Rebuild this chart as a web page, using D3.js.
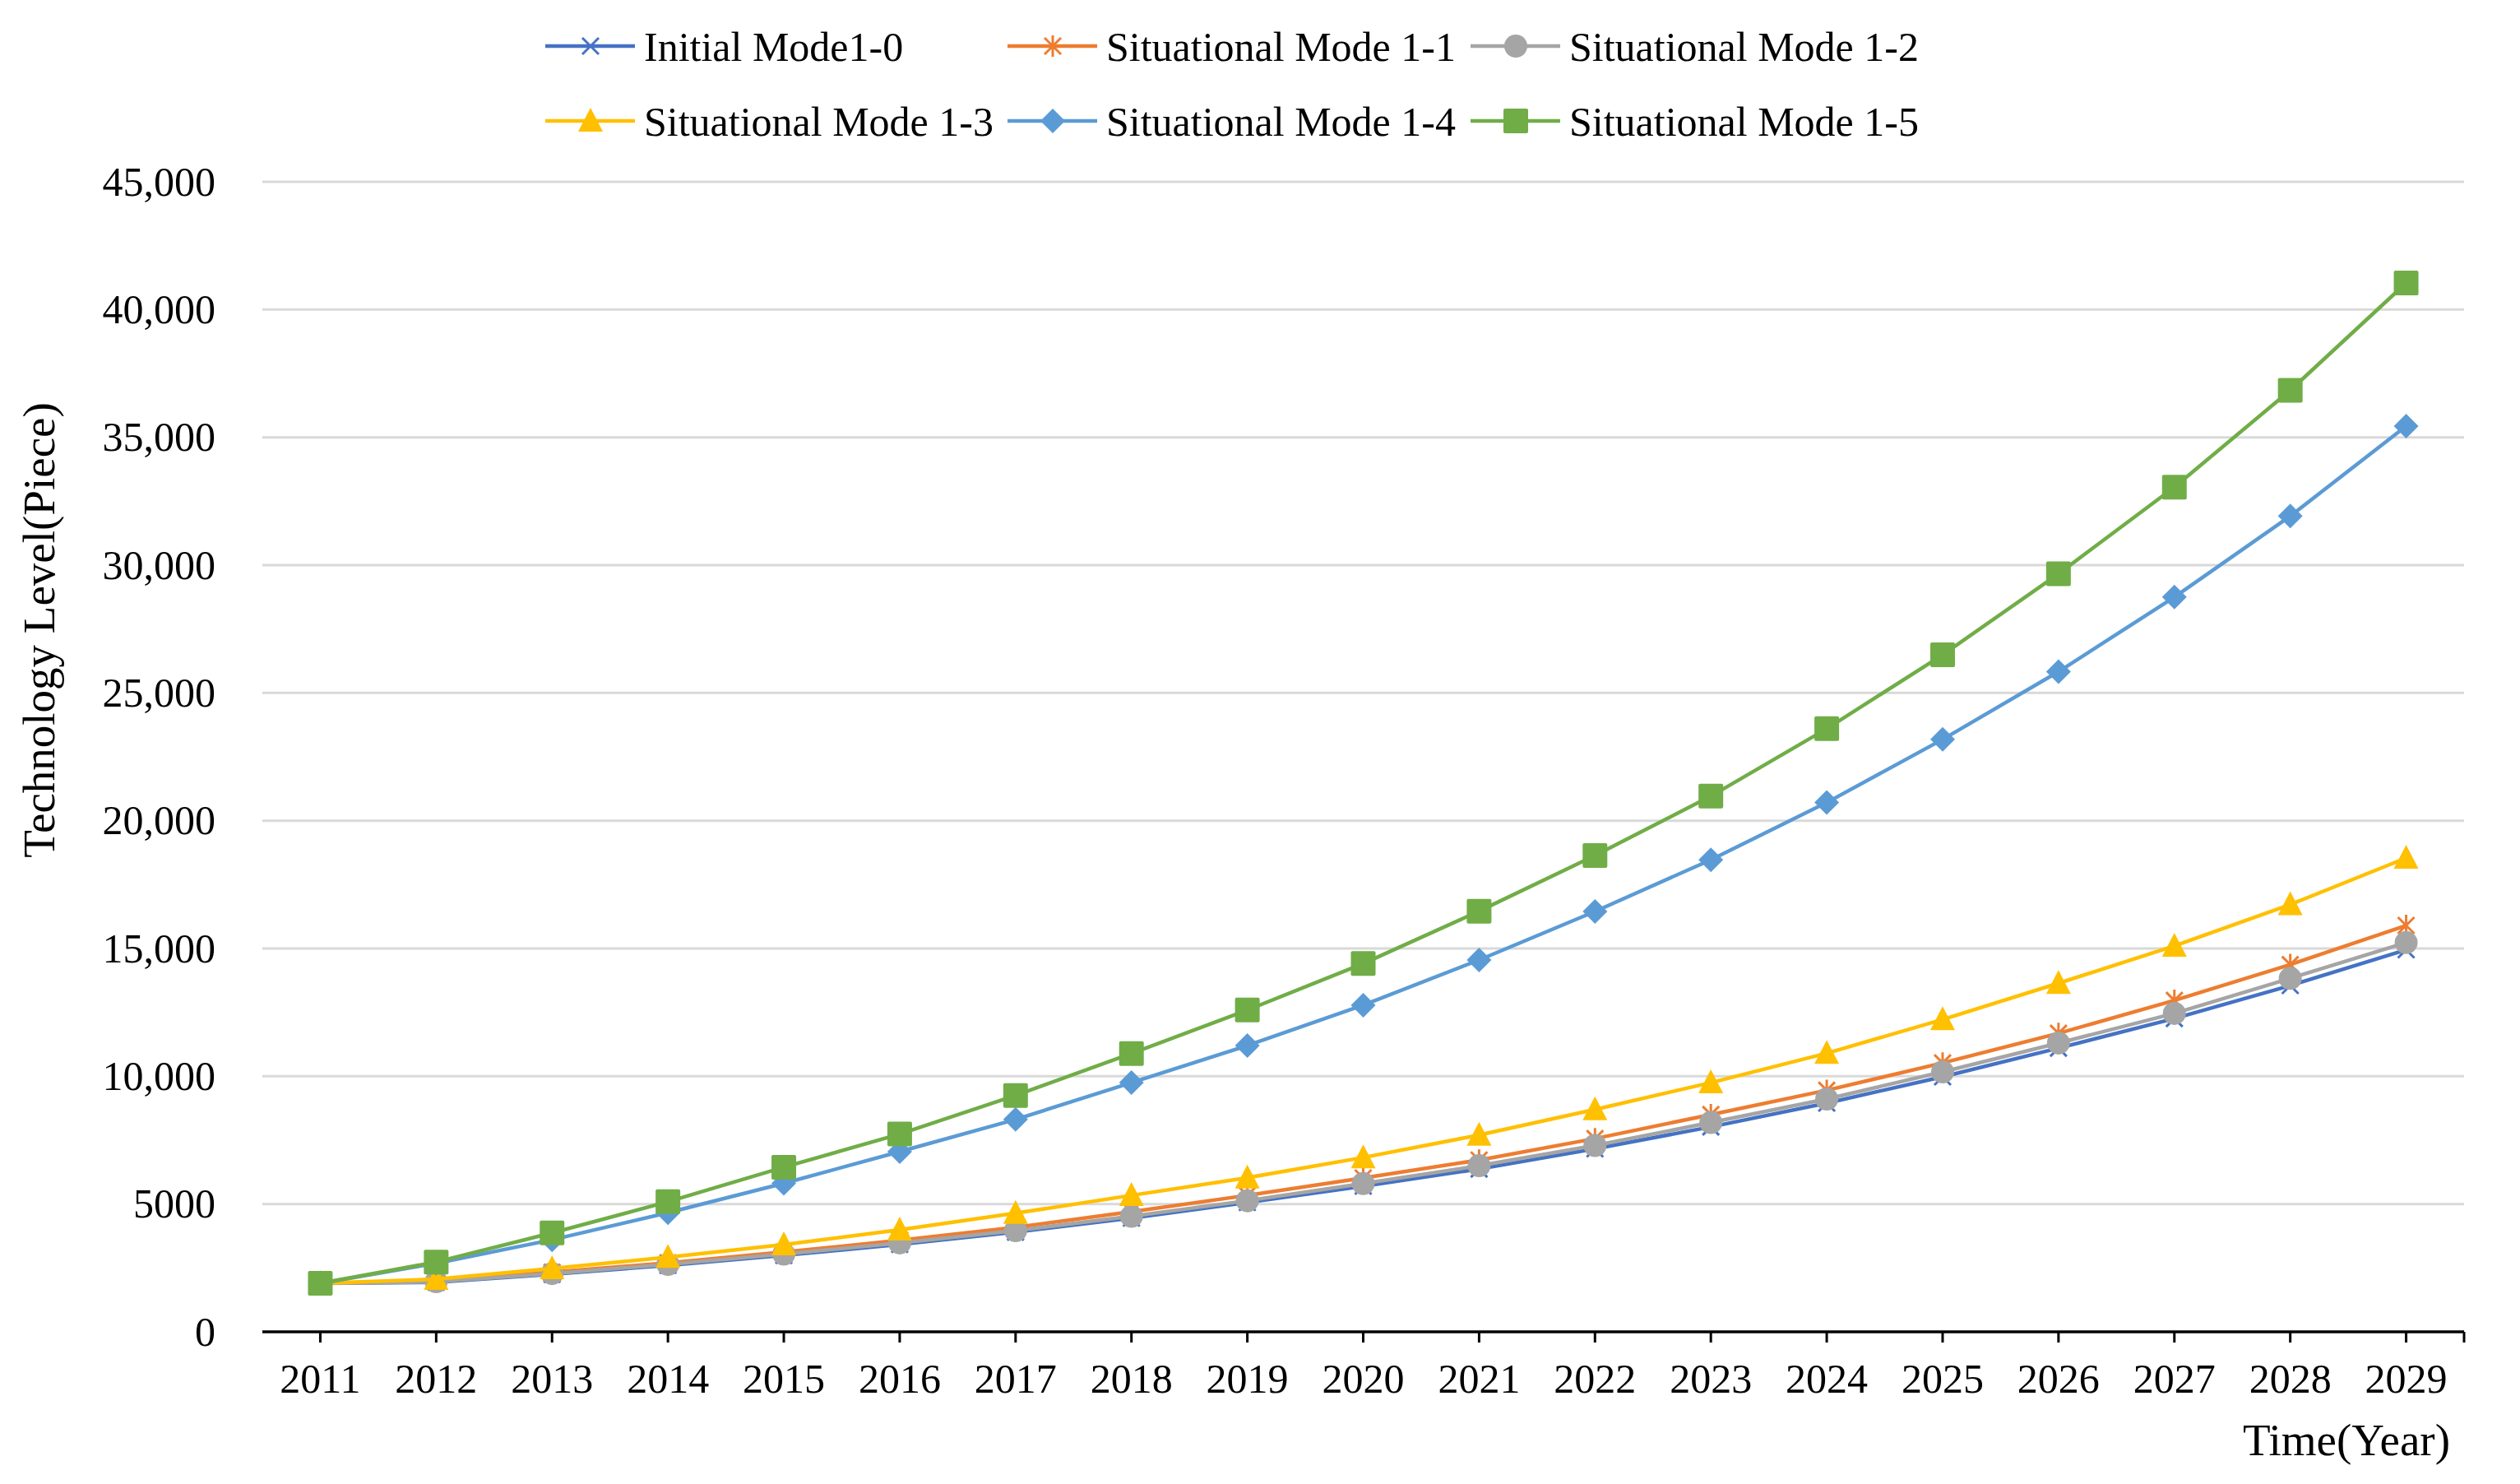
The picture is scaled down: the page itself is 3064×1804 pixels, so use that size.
<!DOCTYPE html>
<html lang="en">
<head>
    <meta charset="UTF-8">
    <title>Technology Level</title>
    <script src="https://cdn.jsdelivr.net/npm/d3@7"></script>
    <style>
        body { margin: 0; background: #fff; }
        text { font-family: "Liberation Serif", "Times New Roman", serif; fill: #000; }
    </style>
</head>
<body>
    <svg width="3064" height="1804"></svg>
    <script>
        // data
        var years = [2011,2012,2013,2014,2015,2016,2017,2018,2019,2020,2021,2022,2023,2024,2025,2026,2027,2028,2029];
        var names = ["Initial Mode1-0","Situational Mode 1-1","Situational Mode 1-2","Situational Mode 1-3","Situational Mode 1-4","Situational Mode 1-5"];
        var mode10 = [1900,1940,2250,2600,2990,3420,3900,4450,5060,5700,6370,7160,8020,8950,9980,11100,12260,13550,14950];
        var mode11 = [1900,1990,2330,2700,3120,3580,4090,4700,5340,6020,6720,7560,8500,9450,10520,11680,12970,14370,15900];
        var mode12 = [1900,1960,2280,2640,3040,3480,3960,4520,5130,5800,6500,7290,8190,9110,10170,11300,12460,13830,15230];
        var mode13 = [1900,2060,2480,2920,3410,3990,4640,5340,6030,6820,7700,8700,9750,10900,12220,13640,15100,16720,18540];
        var mode14 = [1900,2680,3600,4660,5810,7050,8310,9750,11200,12780,14550,16450,18470,20710,23180,25830,28750,31920,35440];
        var mode15 = [1900,2730,3870,5090,6440,7740,9250,10890,12590,14410,16460,18640,20960,23600,26490,29660,33050,36840,41040];
        var yTicks = [0,5000,10000,15000,20000,25000,30000,35000,40000,45000];

        var series = [mode10, mode11, mode12, mode13, mode14, mode15];
        var colors = ["#4472C4","#ED7D31","#A5A5A5","#FFC000","#5B9BD5","#70AD47"];
        var shapes = ["x","star","circle","triangle","diamond","square"];

        var svg = d3.select("svg");
        var plotL = 319, plotR = 2996, plotT = 221, plotB = 1619;

        var x = d3.scalePoint().domain(years).range([plotL, plotR]).padding(0.5);
        var y = d3.scaleLinear().domain([0, 45000]).range([plotB, plotT]);

        // gridlines
        svg.append("g").selectAll("line")
            .data(yTicks.filter(function(d){ return d > 0; }))
            .enter().append("line")
            .attr("x1", plotL).attr("x2", plotR)
            .attr("y1", function(d){ return y(d); })
            .attr("y2", function(d){ return y(d); })
            .attr("stroke", "#D9D9D9").attr("stroke-width", 3);

        // y axis labels (no axis line)
        var yAxis = d3.axisLeft(y).tickValues(yTicks).tickSize(0).tickPadding(0)
            .tickFormat(function(d){ return d >= 10000 ? d3.format(",")(d) : d; });
        var gy = svg.append("g").attr("transform", "translate(262,0)").call(yAxis);
        gy.select(".domain").remove();
        gy.selectAll("text").style("font-size", "50px")
            .style("font-family", "'Liberation Serif', serif").attr("fill", "#000");

        // x axis
        var gx = svg.append("g").attr("transform", "translate(0," + plotB + ")");
        gx.append("line").attr("x1", plotL).attr("x2", plotR)
            .attr("stroke", "#000").attr("stroke-width", 3.5);
        gx.selectAll(".tk").data(years).enter().append("line")
            .attr("x1", function(d){ return x(d); }).attr("x2", function(d){ return x(d); })
            .attr("y1", 0).attr("y2", 13).attr("stroke", "#000").attr("stroke-width", 3);
        gx.append("line").attr("x1", plotR).attr("x2", plotR)
            .attr("y1", 0).attr("y2", 13).attr("stroke", "#000").attr("stroke-width", 3);
        gx.selectAll(".lbl").data(years).enter().append("text")
            .attr("x", function(d){ return x(d); }).attr("y", 74)
            .attr("text-anchor", "middle").style("font-size", "50px")
            .text(function(d){ return d; });

        // axis titles
        svg.append("text").attr("x", 2979).attr("y", 1769)
            .attr("text-anchor", "end").style("font-size", "55px").text("Time(Year)");
        svg.append("text").attr("transform", "translate(66,766) rotate(-90)")
            .attr("text-anchor", "middle").style("font-size", "55px").text("Technology Level(Piece)");

        function marker(g, shape, color, cx, cy) {
            if (shape == "x" || shape == "star") {
                var s = 10;
                g.append("path")
                    .attr("d", "M" + (cx-s) + "," + (cy-s) + "L" + (cx+s) + "," + (cy+s) +
                               "M" + (cx-s) + "," + (cy+s) + "L" + (cx+s) + "," + (cy-s) +
                               (shape == "star" ? "M" + cx + "," + (cy-s-3) + "L" + cx + "," + (cy+s+3) : ""))
                    .attr("stroke", color).attr("stroke-width", 3).attr("fill", "none");
            } else if (shape == "circle") {
                g.append("circle").attr("cx", cx).attr("cy", cy).attr("r", 14).attr("fill", color);
            } else if (shape == "triangle") {
                g.append("path").attr("d", "M" + cx + "," + (cy-16) + "L" + (cx+15) + "," + (cy+13) +
                    "L" + (cx-15) + "," + (cy+13) + "Z").attr("fill", color);
            } else if (shape == "diamond") {
                g.append("path").attr("d", "M" + cx + "," + (cy-15) + "L" + (cx+15) + "," + cy +
                    "L" + cx + "," + (cy+15) + "L" + (cx-15) + "," + cy + "Z").attr("fill", color);
            } else {
                g.append("rect").attr("x", cx-15).attr("y", cy-15).attr("width", 30).attr("height", 30)
                    .attr("rx", 2).attr("fill", color);
            }
        }

        var line = d3.line()
            .x(function(d, i){ return x(years[i]); })
            .y(function(d){ return y(d); });

        series.forEach(function(vals, k) {
            var g = svg.append("g");
            g.append("path").datum(vals).attr("d", line)
                .attr("fill", "none").attr("stroke", colors[k]).attr("stroke-width", 4.5);
            vals.forEach(function(v, i) {
                marker(g, shapes[k], colors[k], x(years[i]), y(v));
            });
        });

        // legend
        var colX = [663, 1225, 1788], rowY = [56, 147];
        names.forEach(function(n, k) {
            var lx = colX[k % 3], ly = rowY[Math.floor(k / 3)];
            var g = svg.append("g");
            g.append("line").attr("x1", lx).attr("x2", lx + 109).attr("y1", ly).attr("y2", ly)
                .attr("stroke", colors[k]).attr("stroke-width", 4.5);
            marker(g, shapes[k], colors[k], lx + 55, ly);
            g.append("text").attr("x", lx + 120).attr("y", ly).attr("dy", "0.35em")
                .style("font-size", "50px").text(n);
        });
    </script>
</body>
</html>
